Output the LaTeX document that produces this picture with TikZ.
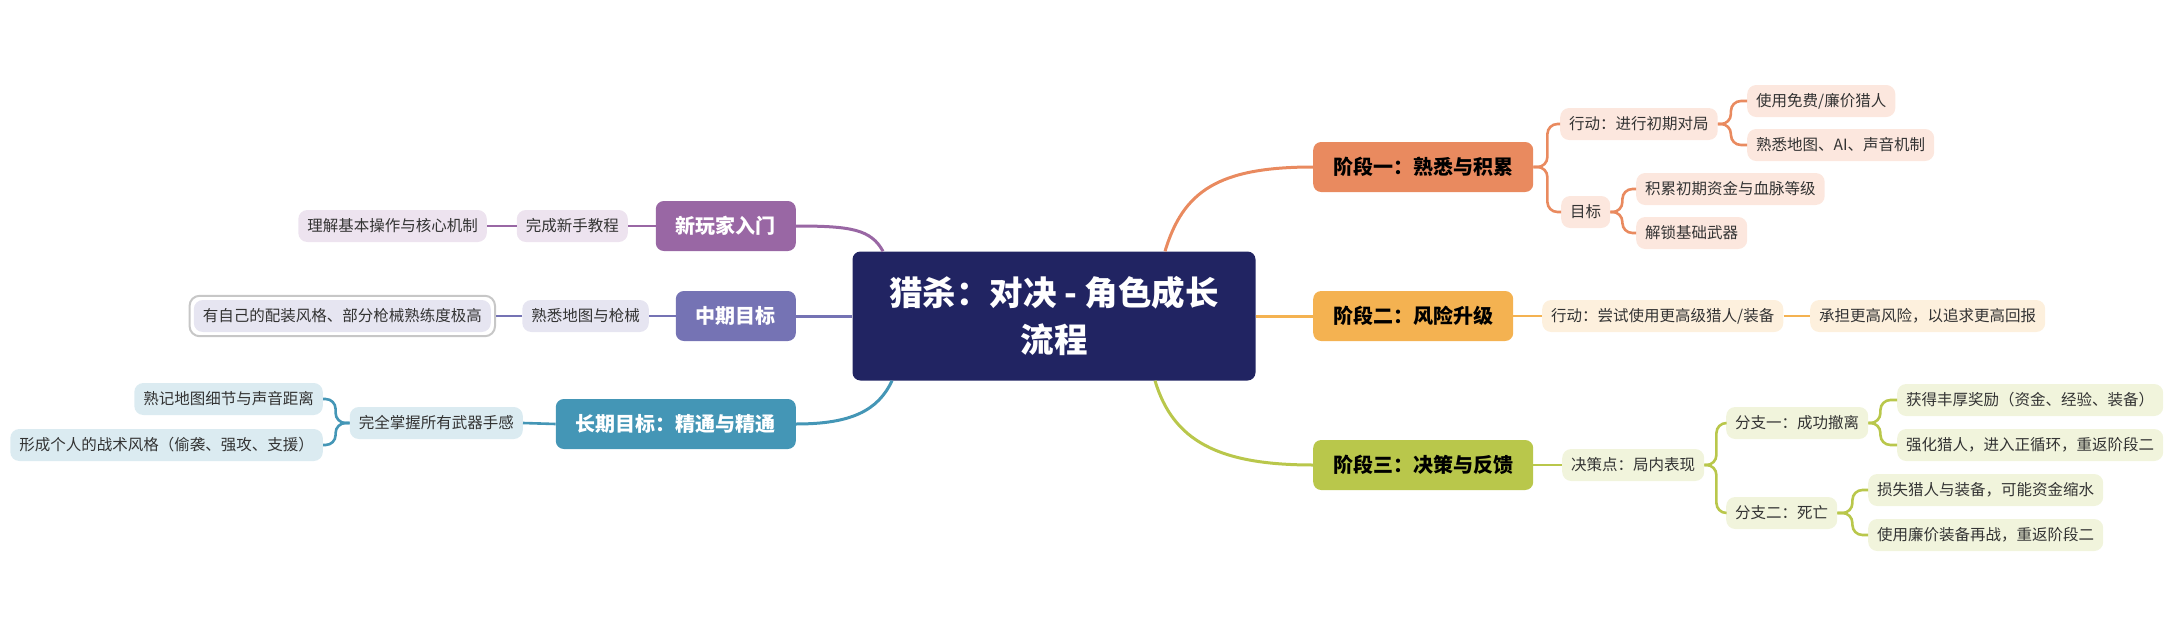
\documentclass[tikz,border=0pt]{standalone}
\usepackage{fontspec}
\setmainfont{Noto Sans CJK SC}
\usetikzlibrary{fit}

\definecolor{rootc}{HTML}{212462}
\definecolor{onec}{HTML}{E98A5F}
\definecolor{onel}{HTML}{FCE7DE}
\definecolor{twoc}{HTML}{F4B251}
\definecolor{twol}{HTML}{FDF0DD}
\definecolor{threec}{HTML}{B9C74B}
\definecolor{threel}{HTML}{F1F4DC}
\definecolor{newc}{HTML}{9967A4}
\definecolor{newl}{HTML}{EDE3EF}
\definecolor{midc}{HTML}{7573B4}
\definecolor{midl}{HTML}{E6E5F1}
\definecolor{longc}{HTML}{4496B6}
\definecolor{longl}{HTML}{DBEBF1}
\definecolor{leaftext}{HTML}{333333}

\begin{document}
\begin{tikzpicture}[x=1pt, y=-1pt,
    root/.style={rounded corners=8pt, fill=rootc, text=white,
        font=\fontsize{33.5}{47}\selectfont\bfseries, align=center,
        minimum width=403pt, minimum height=129pt},
    topic/.style={rounded corners=8pt, font=\fontsize{20}{24}\selectfont\bfseries,
        inner xsep=20pt, minimum height=50pt},
    leaf/.style={rounded corners=9pt, text=leaftext, font=\fontsize{15.5}{19}\selectfont,
        inner xsep=9pt, minimum height=32pt},
    link/.style={line width=2.6pt, rounded corners=10pt},
    trunk/.style={line width=3pt}
]
    \useasboundingbox (0,0) rectangle (2183,621);

    \node[root] (root) at (1054,316) {猎杀：对决 - 角色成长\\流程};

    % right side
    \node[topic, fill=onec, anchor=west] (p1) at (1313,167) {阶段一：熟悉与积累};
    \node[leaf, fill=onel, anchor=west] (act1) at (1560,124) {行动：进行初期对局};
    \node[leaf, fill=onel, anchor=west] (act1a) at (1747,101) {使用免费/廉价猎人};
    \node[leaf, fill=onel, anchor=west] (act1b) at (1747,145) {熟悉地图、AI、声音机制};
    \node[leaf, fill=onel, anchor=west] (goal1) at (1561,212) {目标};
    \node[leaf, fill=onel, anchor=west] (goal1a) at (1636,189) {积累初期资金与血脉等级};
    \node[leaf, fill=onel, anchor=west] (goal1b) at (1636,233) {解锁基础武器};

    \node[topic, fill=twoc, anchor=west] (p2) at (1313,316) {阶段二：风险升级};
    \node[leaf, fill=twol, anchor=west] (act2) at (1542,316) {行动：尝试使用更高级猎人/装备};
    \node[leaf, fill=twol, anchor=west] (act2a) at (1810,316) {承担更高风险，以追求更高回报};

    \node[topic, fill=threec, anchor=west] (p3) at (1313,465) {阶段三：决策与反馈};
    \node[leaf, fill=threel, anchor=west] (dec3) at (1562,465) {决策点：局内表现};
    \node[leaf, fill=threel, anchor=west] (br1) at (1726,423) {分支一：成功撤离};
    \node[leaf, fill=threel, anchor=west] (br1a) at (1897,400) {获得丰厚奖励（资金、经验、装备）};
    \node[leaf, fill=threel, anchor=west] (br1b) at (1897,445) {强化猎人，进入正循环，重返阶段二};
    \node[leaf, fill=threel, anchor=west] (br2) at (1726,513) {分支二：死亡};
    \node[leaf, fill=threel, anchor=west] (br2a) at (1868,490) {损失猎人与装备，可能资金缩水};
    \node[leaf, fill=threel, anchor=west] (br2b) at (1868,535) {使用廉价装备再战，重返阶段二};

    % left side
    \node[topic, fill=newc, text=white, anchor=east] (new) at (796,226) {新玩家入门};
    \node[leaf, fill=newl, anchor=east] (newa) at (628,226) {完成新手教程};
    \node[leaf, fill=newl, anchor=east] (newb) at (487,226) {理解基本操作与核心机制};

    \node[topic, fill=midc, text=white, anchor=east] (mid) at (796,316) {中期目标};
    \node[leaf, fill=midl, anchor=east] (mida) at (649,316) {熟悉地图与枪械};
    \node[leaf, fill=midl, anchor=east] (midb) at (491,316) {有自己的配装风格、部分枪械熟练度极高};
    \node[fit=(midb), inner sep=4pt, draw=black!22, line width=2pt, rounded corners=10pt] (midframe) {};

    \node[topic, fill=longc, text=white, anchor=east] (long) at (796,424) {长期目标：精通与精通};
    \node[leaf, fill=longl, anchor=east] (longa) at (523,423) {完全掌握所有武器手感};
    \node[leaf, fill=longl, anchor=east] (longb) at (323,399) {熟记地图细节与声音距离};
    \node[leaf, fill=longl, anchor=east] (longc) at (323,445) {形成个人的战术风格（偷袭、强攻、支援）};

    % trunks
    \draw[trunk, onec] ([xshift=111pt]root.north) .. controls +(18,-60) and +(-95,0) .. (p1.west);
    \draw[trunk, twoc] (root.east) -- (p2.west);
    \draw[trunk, threec] ([xshift=101pt]root.south) .. controls +(18,60) and +(-95,0) .. (p3.west);
    \draw[trunk, newc] ([xshift=-171pt]root.north) .. controls +(-12,-22) and +(55,0) .. (new.east);
    \draw[trunk, midc] (root.west) -- (mid.east);
    \draw[trunk, longc] ([xshift=-162pt]root.south) .. controls +(-14,30) and +(55,0) .. (long.east);

    % branches
    \draw[link, onec] (p1.east) -- ++(14,0) |- (act1.west);
    \draw[link, onec] (p1.east) -- ++(14,0) |- (goal1.west);
    \draw[link, onec] (act1.east) -- ++(13,0) |- (act1a.west);
    \draw[link, onec] (act1.east) -- ++(13,0) |- (act1b.west);
    \draw[link, onec] (goal1.east) -- ++(12,0) |- (goal1a.west);
    \draw[link, onec] (goal1.east) -- ++(12,0) |- (goal1b.west);

    \draw[link, twoc] (p2.east) -- (act2.west);
    \draw[link, twoc] (act2.east) -- (act2a.west);

    \draw[link, threec] (p3.east) -- (dec3.west);
    \draw[link, threec] (dec3.east) -- ++(12,0) |- (br1.west);
    \draw[link, threec] (dec3.east) -- ++(12,0) |- (br2.west);
    \draw[link, threec] (br1.east) -- ++(12,0) |- (br1a.west);
    \draw[link, threec] (br1.east) -- ++(12,0) |- (br1b.west);
    \draw[link, threec] (br2.east) -- ++(15,0) |- (br2a.west);
    \draw[link, threec] (br2.east) -- ++(15,0) |- (br2b.west);

    \draw[link, newc] (new.west) -- (newa.east);
    \draw[link, newc] (newa.west) -- (newb.east);

    \draw[link, midc] (mid.west) -- (mida.east);
    \draw[link, midc] (mida.west) -- (midframe.east);

    \draw[link, longc] (long.west) -- (longa.east);
    \draw[link, longc] (longa.west) -- ++(-14,0) |- (longb.east);
    \draw[link, longc] (longa.west) -- ++(-14,0) |- (longc.east);
\end{tikzpicture}
\end{document}
